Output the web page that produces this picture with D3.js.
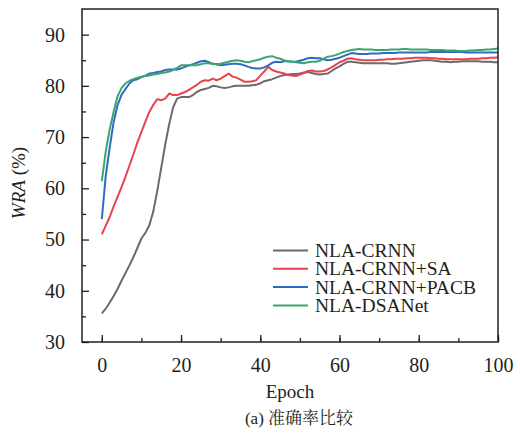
<!DOCTYPE html>
<html>
<head>
<meta charset="utf-8">
<script src="https://cdn.jsdelivr.net/npm/d3@7"></script>
<style>
  body { margin: 0; background: #fff; }
</style>
</head>
<body>
<div id="visual"></div>
<script>
// epochs 0..100
let epochs = d3.range(0, 101)

let crnn = [35.6,36.5,37.7,39.0,40.4,42.0,43.5,45.0,46.6,48.4,
  50.2,51.3,52.8,55.5,59.5,64.0,68.5,72.5,75.8,77.5,
  77.8,77.8,77.8,78.2,78.8,79.2,79.4,79.6,80.0,79.9,
  79.7,79.6,79.7,79.9,80.0,80.0,80.0,80.0,80.1,80.2,
  80.5,80.9,81.1,81.3,81.6,81.9,82.1,82.2,82.3,82.3,
  82.4,82.6,82.7,82.5,82.3,82.2,82.3,82.4,82.9,83.4,
  83.8,84.3,84.7,84.7,84.6,84.5,84.4,84.4,84.4,84.4,
  84.4,84.4,84.4,84.3,84.3,84.4,84.5,84.6,84.7,84.8,
  84.9,85.0,85.0,85.0,84.9,84.8,84.7,84.7,84.6,84.7,
  84.7,84.8,84.8,84.8,84.8,84.8,84.7,84.7,84.7,84.6,84.6]

let crnnSA = [51.0,52.7,54.4,56.5,58.4,60.3,62.3,64.5,66.7,69.0,
  71.0,73.0,74.9,76.3,77.4,77.2,77.5,78.5,78.2,78.2,
  78.5,78.8,79.2,79.7,80.2,80.8,81.1,81.0,81.4,81.1,
  81.4,81.9,82.4,81.8,81.6,81.2,80.8,80.8,80.9,81.1,
  82.0,82.8,83.7,83.1,82.8,82.6,82.4,82.1,82.0,81.9,
  82.2,82.5,82.9,83.0,82.8,82.8,82.9,83.2,83.6,84.1,
  84.6,84.9,85.3,85.4,85.2,85.1,85.0,85.0,85.0,85.0,
  85.1,85.1,85.2,85.2,85.3,85.3,85.3,85.4,85.4,85.5,
  85.5,85.5,85.5,85.4,85.4,85.3,85.3,85.2,85.2,85.2,
  85.2,85.2,85.2,85.3,85.3,85.3,85.4,85.4,85.5,85.5,85.6]

let crnnPACB = [54.0,62.5,68.0,73.0,76.3,78.3,79.4,80.5,81.1,81.3,
  81.7,82.0,82.4,82.5,82.7,82.8,83.1,83.2,83.2,83.2,
  83.4,83.7,84.0,84.2,84.5,84.8,84.9,84.6,84.3,84.2,
  84.0,84.1,84.2,84.3,84.3,84.2,84.0,83.7,83.5,83.4,
  83.4,83.6,84.0,84.5,84.7,84.6,84.8,84.8,84.7,84.7,
  84.9,85.1,85.4,85.5,85.4,85.4,85.2,85.0,85.1,85.3,
  85.5,85.8,86.1,86.4,86.3,86.2,86.2,86.2,86.3,86.3,
  86.3,86.4,86.4,86.4,86.4,86.5,86.5,86.5,86.5,86.5,
  86.5,86.5,86.5,86.6,86.6,86.6,86.6,86.6,86.6,86.6,
  86.6,86.6,86.5,86.5,86.5,86.5,86.5,86.5,86.5,86.5,86.5]

let dsaNet = [61.4,67.2,71.5,75.0,78.0,79.6,80.5,81.0,81.3,81.6,
  81.8,81.9,82.0,82.2,82.3,82.5,82.6,82.8,83.1,83.5,
  84.0,84.0,84.0,84.0,84.0,84.2,84.4,84.4,84.3,84.2,
  84.3,84.5,84.7,84.9,85.0,84.9,84.7,84.6,84.8,85.0,
  85.2,85.5,85.7,85.8,85.5,85.3,85.0,84.8,84.7,84.6,
  84.5,84.4,84.6,84.7,84.7,84.9,85.3,85.7,85.8,86.0,
  86.3,86.6,86.8,87.0,87.1,87.2,87.1,87.1,87.1,87.0,
  87.0,87.0,87.0,87.1,87.1,87.1,87.2,87.2,87.1,87.1,
  87.1,87.1,87.1,87.0,87.0,87.0,87.0,86.9,86.9,86.9,
  86.8,86.8,86.8,86.9,86.9,87.0,87.0,87.1,87.1,87.2,87.3]

let seriesNames = ["NLA-CRNN", "NLA-CRNN+SA", "NLA-CRNN+PACB", "NLA-DSANet"]
let seriesColors = ["#6b6b6b", "#e8434b", "#2d6bc4", "#3ba56f"]
let xTicks = [0, 20, 40, 60, 80, 100]
let yTicks = [30, 40, 50, 60, 70, 80, 90]

let series = [crnn, crnnSA, crnnPACB, dsaNet]

let INK = "#231f20"

var margin = { top: 9, right: 22, bottom: 102, left: 82 },
    width = 520 - margin.left - margin.right,
    height = 444 - margin.top - margin.bottom

var svg = d3.select("#visual")
    .append("svg")
    .attr("width", 520)
    .attr("height", 444)
    .attr("font-family", "Liberation Serif")
    .append("g")
    .attr("transform", "translate(" + margin.left + "," + margin.top + ")")

let x = d3.scaleLinear().domain([-5, 100]).range([0, width])
let y = d3.scaleLinear().domain([30, 95]).range([height, 0])

// minor ticks first, then major ones with labels
svg.append("g")
    .attr("transform", "translate(0," + height + ")")
    .call(d3.axisBottom(x).tickValues(d3.range(0, 101, 10)).tickSize(-4).tickFormat(""))
    .call(g => g.select(".domain").remove())
svg.append("g")
    .call(d3.axisLeft(y).tickValues(d3.range(35, 95, 10)).tickSize(-4).tickFormat(""))
    .call(g => g.select(".domain").remove())

let xAxis = svg.append("g")
    .attr("transform", "translate(0," + height + ")")
    .call(d3.axisBottom(x).tickValues(xTicks).tickSize(-7).tickPadding(16))
let yAxis = svg.append("g")
    .call(d3.axisLeft(y).tickValues(yTicks).tickSize(-7).tickPadding(17))

;[xAxis, yAxis].forEach(a => {
    a.select(".domain").remove()
    a.attr("font-family", "Liberation Serif").attr("font-size", 20)
    a.selectAll("text").attr("fill", INK)
})
svg.selectAll(".tick line").attr("stroke", INK).attr("stroke-width", 1.3)

let line = d3.line()
    .x((d, i) => x(epochs[i]))
    .y(d => y(d))

svg.selectAll("curves")
    .data(series)
    .enter()
    .append("path")
    .attr("d", d => line(d))
    .attr("fill", "none")
    .attr("stroke", (d, i) => seriesColors[i])
    .attr("stroke-width", 2)
    .attr("stroke-linejoin", "round")

svg.append("rect")
    .attr("width", width)
    .attr("height", height)
    .attr("fill", "none")
    .attr("stroke", INK)
    .attr("stroke-width", 1.5)

// legend
let legend = svg.selectAll("legend")
    .data(seriesNames)
    .enter()
    .append("g")
    .attr("transform", (d, i) => "translate(191," + (241.5 + i * 18.3) + ")")
legend.append("line")
    .attr("x1", 0).attr("x2", 35)
    .attr("stroke", (d, i) => seriesColors[i])
    .attr("stroke-width", 2)
legend.append("text")
    .attr("x", 42)
    .attr("dy", "0.33em")
    .attr("font-family", "Liberation Serif")
    .attr("font-size", 19.5)
    .attr("fill", INK)
    .text(d => d)

svg.append("text")
    .attr("x", width / 2)
    .attr("y", height + 56)
    .attr("text-anchor", "middle")
    .attr("font-family", "Liberation Serif")
    .attr("font-size", 19)
    .attr("fill", INK)
    .text("Epoch")

let yLabel = svg.append("text")
    .attr("transform", "translate(-57," + 174 + ") rotate(-90)")
    .attr("text-anchor", "middle")
    .attr("font-family", "Liberation Serif")
    .attr("font-size", 19)
    .attr("fill", INK)
yLabel.append("tspan").attr("font-style", "italic").text("WRA")
yLabel.append("tspan").text(" (%)")

let caption = svg.append("text")
    .attr("x", 217)
    .attr("y", height + 82)
    .attr("text-anchor", "middle")
    .attr("font-family", "Liberation Serif")
    .attr("font-size", 17)
    .attr("fill", INK)
caption.append("tspan").text("(a) ")
caption.append("tspan").attr("font-family", "Noto Serif CJK SC").attr("font-size", 17).text("准确率比较")
</script>
</body>
</html>
